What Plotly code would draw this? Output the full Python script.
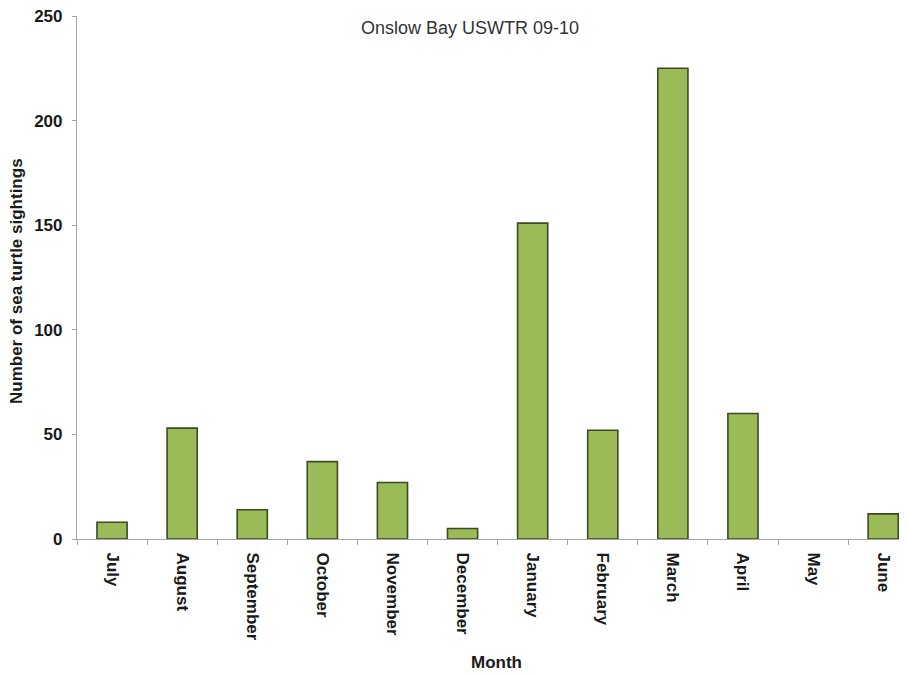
import plotly.graph_objects as go

months = ["July", "August", "September", "October", "November", "December",
          "January", "February", "March", "April", "May", "June"]
sightings = [8, 53, 14, 37, 27, 5, 151, 52, 225, 60, 0, 12]
y_ticks = [0, 50, 100, 150, 200, 250]

chart_title = "Onslow Bay USWTR 09-10"
x_title = "Month"
y_title = "Number of sea turtle sightings"

FONT = "Liberation Sans, Arial, sans-serif"

fig = go.Figure(go.Bar(
    x=months, y=sightings,
    marker=dict(color="#9bbb59",
                line=dict(color="#3d4a22",
                          width=[0 if v == 0 else 1.6 for v in sightings])),
))

OFF = 8  # page body margin
W, H = 907 - OFF, 675 - OFF
# target pixel positions in the screenshot
ax_left, ax_top, ax_bottom = 77, 16, 539
L = ax_left - OFF
T = ax_top - OFF
B = H - (ax_bottom - OFF)
R = 0
pw = W - L - R
ph = H - T - B


def px_x(x):
    return (x - ax_left) / pw


def px_y(y):
    return (ax_bottom - y) / ph


fig.update_layout(
    width=W, height=H,
    margin=dict(l=L, r=R, t=T, b=B, autoexpand=False),
    paper_bgcolor="white", plot_bgcolor="white",
    bargap=0.57,
    showlegend=False,
    font=dict(family=FONT, color="#1a1a1a"),
    title=dict(text=chart_title, x=(470 - OFF) / W, xanchor="center",
               y=1 - (28 - OFF) / H, yanchor="middle",
               font=dict(size=18, color="#333333", family=FONT)),
    xaxis=dict(
        type="category", range=[-0.5, 11.34], automargin=False,
        showline=True, linecolor="#a6a6a6", linewidth=1.2,
        ticks="outside", tickson="boundaries", ticklen=5, tickcolor="#a6a6a6",
        tickangle=90, ticklabelstandoff=9,
        tickfont=dict(size=17, family=FONT, color="#1a1a1a", weight="bold"),
        showgrid=False, zeroline=False,
    ),
    yaxis=dict(
        range=[0, 250], tickvals=y_ticks, automargin=False,
        showline=True, linecolor="#a6a6a6", linewidth=1.2,
        ticks="outside", ticklen=4, tickcolor="#a6a6a6",
        ticklabelstandoff=6, ticklabeloverflow="allow",
        tickfont=dict(size=17, family=FONT, color="#1a1a1a", weight="bold"),
        showgrid=False, zeroline=False,
    ),
    annotations=[
        dict(text="<b>" + y_title + "</b>", xref="paper", yref="paper",
             x=px_x(17), y=px_y(281),
             xanchor="center", yanchor="middle", textangle=-90,
             showarrow=False, font=dict(size=17, family=FONT, color="#1a1a1a")),
        dict(text="<b>" + x_title + "</b>", xref="paper", yref="paper",
             x=px_x(497), y=px_y(662),
             xanchor="center", yanchor="middle",
             showarrow=False, font=dict(size=17, family=FONT, color="#1a1a1a")),
    ],
)

fig.write_html("out.html")
